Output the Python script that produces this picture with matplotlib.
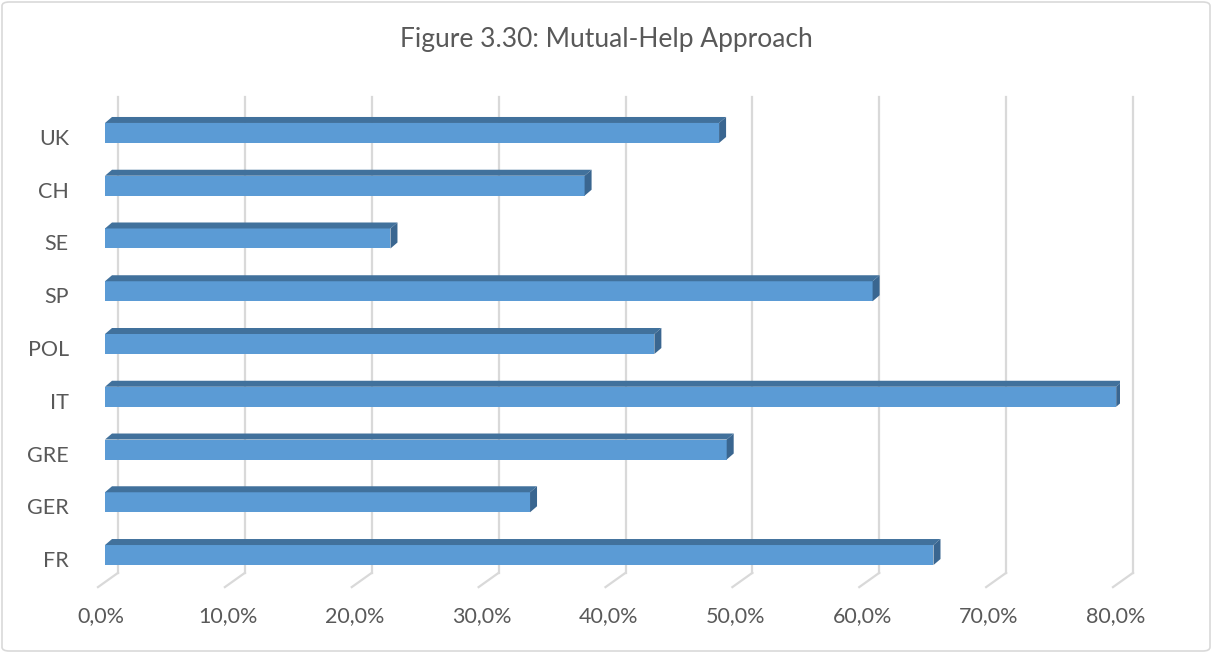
import numpy as np
import matplotlib
matplotlib.use("Agg")
import matplotlib.pyplot as plt
from matplotlib.patches import Polygon, FancyBboxPatch
from matplotlib.transforms import ScaledTranslation, blended_transform_factory, offset_copy

plt.rcParams['font.family'] = ['Lato', 'DejaVu Sans']

# data (bottom to top)
countries = ['FR', 'GER', 'GRE', 'IT', 'POL', 'SP', 'SE', 'CH', 'UK']
values = [0.653, 0.335, 0.490, 0.797, 0.433, 0.605, 0.225, 0.378, 0.484]
xticks = [0.0, 0.1, 0.2, 0.3, 0.4, 0.5, 0.6, 0.7, 0.8]
xticklabels = ['0,0%', '10,0%', '20,0%', '30,0%', '40,0%', '50,0%', '60,0%', '70,0%', '80,0%']

front_col = '#5B9BD5'
top_col = '#41719C'
side_col = '#3A6690'
grid_col = '#D9D9D9'
text_col = '#595959'

W, H = 1212, 653
fig = plt.figure(figsize=(W / 100, H / 100), dpi=100)

# chart border
fig.patches.append(FancyBboxPatch((2 / W, 2 / H), 1 - 4 / W, 1 - 4 / H,
                                  boxstyle="round,pad=0,rounding_size=0.006",
                                  transform=fig.transFigure, fc='none',
                                  ec='#D9D9D9', lw=1.2, zorder=-1))

ax = fig.add_axes([105 / W, 1 - 581.4 / H, 1015 / W, 474.8 / H])
ax.set_xlim(0, 0.8)
ax.set_ylim(-0.5, len(countries) - 0.5)
ax.patch.set_alpha(0)
for s in ax.spines.values():
    s.set_visible(False)

# pixel sizes converted to data units
px_x = 0.8 / 1015
px_y = 9 / 474.8
depth_x = 7 * px_x
depth_y = 6 * px_y
bar_h = 20 * px_y

# back wall gridlines with floor diagonals
back = offset_copy(ax.transData, fig=fig, x=13, y=0, units='dots')
bt = blended_transform_factory(back, ax.transAxes)
for t in xticks:
    ax.plot([t, t], [1.02, 0.018], color=grid_col, lw=1.6, transform=bt,
            clip_on=False, zorder=0)
    ax.plot([t, t - 20 * px_x], [0.018, -0.012], color=grid_col, lw=1.6,
            transform=bt, clip_on=False, zorder=0)

# bars
y = np.arange(len(countries))
ax.barh(y, values, height=bar_h, color=front_col, zorder=3, edgecolor='none')
for yi, v in zip(y, values):
    top = yi + bar_h / 2
    ax.add_patch(Polygon([(0, top), (depth_x, top + depth_y),
                          (v + depth_x, top + depth_y), (v, top)],
                         closed=True, fc=top_col, ec='none', zorder=3))
    ax.add_patch(Polygon([(v, top), (v + depth_x, top + depth_y),
                          (v + depth_x, top + depth_y - bar_h), (v, top - bar_h)],
                         closed=True, fc=side_col, ec='none', zorder=3))

ax.set_yticks(y)
ax.set_yticklabels(countries)
ax.set_xticks(xticks)
ax.set_xticklabels(xticklabels)
ax.tick_params(axis='both', length=0, colors=text_col, labelsize=15.5)
ax.tick_params(axis='y', pad=26)
ax.tick_params(axis='x', pad=18)
for lab in ax.get_yticklabels():
    lab.set_transform(lab.get_transform() + ScaledTranslation(0, -4 / 100, fig.dpi_scale_trans))
for lab in ax.get_xticklabels():
    lab.set_transform(lab.get_transform() + ScaledTranslation(-4 / 100, 0, fig.dpi_scale_trans))

fig.text(0.5, 1 - 40 / H, 'Figure 3.30: Mutual-Help Approach', ha='center',
         va='center', fontsize=19, color=text_col)

fig.savefig('out.png', dpi=100)
